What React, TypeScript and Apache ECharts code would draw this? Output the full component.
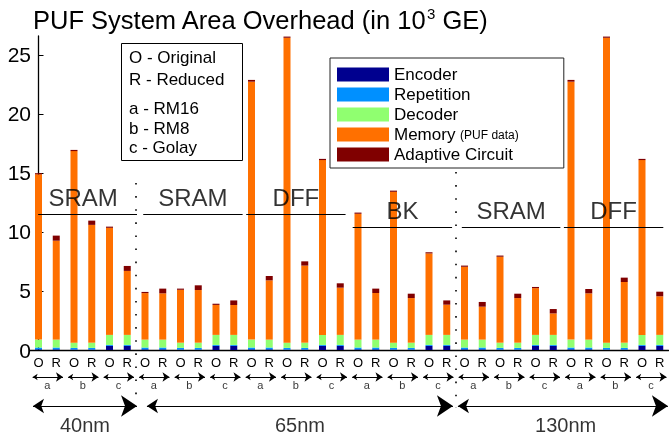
import React, { useEffect, useRef } from 'react';
import * as echarts from 'echarts';

// ---------- data ----------
const barLabels = [
  'O', 'R', 'O', 'R', 'O', 'R',
  'O', 'R', 'O', 'R', 'O', 'R',
  'O', 'R', 'O', 'R', 'O', 'R',
  'O', 'R', 'O', 'R', 'O', 'R',
  'O', 'R', 'O', 'R', 'O', 'R',
  'O', 'R', 'O', 'R', 'O', 'R',
];
const codeLetters = ['a', 'b', 'c', 'a', 'b', 'c', 'a', 'b', 'c', 'a', 'b', 'c', 'a', 'b', 'c', 'a', 'b', 'c'];
const techLabels = ['40nm', '65nm', '130nm'];
const groupNames = ['SRAM', 'SRAM', 'DFF', 'BK', 'SRAM', 'DFF'];
const yTicks = [0, 5, 10, 15, 20, 25];

const encoder = [
  0.06, 0.06, 0.04, 0.04, 0.35, 0.35,
  0.06, 0.06, 0.04, 0.04, 0.35, 0.35,
  0.06, 0.06, 0.04, 0.04, 0.35, 0.35,
  0.06, 0.06, 0.04, 0.04, 0.35, 0.35,
  0.06, 0.06, 0.04, 0.04, 0.35, 0.35,
  0.06, 0.06, 0.04, 0.04, 0.35, 0.35,
];
const repetition = [
  0.15, 0.15, 0.14, 0.14, 0.08, 0.08,
  0.15, 0.15, 0.14, 0.14, 0.08, 0.08,
  0.15, 0.15, 0.14, 0.14, 0.08, 0.08,
  0.15, 0.15, 0.14, 0.14, 0.08, 0.08,
  0.15, 0.15, 0.14, 0.14, 0.08, 0.08,
  0.15, 0.15, 0.14, 0.14, 0.08, 0.08,
];
const decoder = [
  0.67, 0.67, 0.44, 0.44, 0.85, 0.85,
  0.67, 0.67, 0.44, 0.44, 0.85, 0.85,
  0.67, 0.67, 0.44, 0.44, 0.85, 0.85,
  0.67, 0.67, 0.44, 0.44, 0.85, 0.85,
  0.67, 0.67, 0.44, 0.44, 0.85, 0.85,
  0.67, 0.67, 0.44, 0.44, 0.85, 0.85,
];
const memory = [
  14.0, 8.38, 16.23, 9.98, 9.07, 5.42,
  3.94, 3.92, 4.48, 4.46, 2.54, 2.53,
  21.85, 5.02, 25.83, 6.53, 14.81, 4.0,
  10.66, 3.95, 12.78, 3.78, 6.9, 2.56,
  6.17, 2.79, 7.28, 3.78, 3.96, 1.82,
  21.85, 3.92, 25.83, 5.14, 14.81, 3.27,
];
const adaptive = [
  0.1, 0.43, 0.1, 0.36, 0.1, 0.42,
  0.1, 0.4, 0.1, 0.4, 0.1, 0.39,
  0.15, 0.37, 0.1, 0.36, 0.1, 0.37,
  0.1, 0.37, 0.1, 0.37, 0.1, 0.36,
  0.1, 0.4, 0.1, 0.37, 0.1, 0.37,
  0.15, 0.37, 0.1, 0.37, 0.1, 0.39,
];

// ---------- layout (annotation positions, in bar-index units / px offsets) ----------
const groupSpans = [[-0.02, 5.55], [5.9, 11.5], [11.7, 17.3], [17.7, 23.3], [23.85, 29.4], [29.6, 35.2]];
const groupLevels = [11.5, 11.5, 11.5, 10.42, 10.42, 10.42];
const groupLabelShift = [-0.25, 0, 0, 0, 0, 0];
const techSpans = [[-0.31, 5.55], [6.11, 23.35], [23.63, 35.46]];
const techLabelX = [2.62, 14.73, 29.7];
const separatorX = [5.5, 23.5];
const separatorSpan = [[-167, 45], [-178, 58]]; // px above(-)/below(+) x axis

const FONT = '"Liberation Sans", Arial, Helvetica, sans-serif';
const COLORS = ['#00008F', '#0090FF', '#90FF70', '#FF7000', '#800000'];
const GRID_LEFT = 29.625;
const GRID_TOP = 36;
const GRID_W = 639;
const GRID_H = 314;

export default function App() {
  const ref = useRef<HTMLDivElement>(null);

  useEffect(() => {
    const chart = echarts.init(ref.current!, null, { renderer: 'svg' });
    const categories = barLabels.map((l, i) => `${l}#${i}`);
    const seriesNames = ['Encoder', 'Repetition', 'Decoder', 'Memory', 'Adaptive Circuit'];
    const seriesData = [encoder, repetition, decoder, memory, adaptive];

    const barSeries = seriesNames.map((name, k) => ({
      name,
      type: 'bar',
      stack: 'total',
      barWidth: 7,
      xAxisIndex: 0,
      yAxisIndex: 0,
      itemStyle: { color: COLORS[k] },
      data: seriesData[k],
      silent: true,
    }));

    const smallArrows = codeLetters.map((_, p) => ({
      coords: [[2 * p - 0.33, 27], [2 * p + 1 + 0.38, 27]],
    }));
    const bigArrows = techSpans.map((s) => ({
      coords: [[s[0], 56], [s[1], 56]],
    }));

    const option: any = {
      animation: false,
      title: {
        text: 'PUF System Area Overhead (in 10{sup|3} GE)',
        left: 33,
        top: 6,
        padding: 0,
        textStyle: {
          fontFamily: FONT,
          fontSize: 25.5,
          fontWeight: 'normal',
          color: '#000',
          rich: {
            sup: { fontFamily: FONT, fontSize: 15, color: '#000', padding: [0, 0, 12, 0] },
          },
        },
      },
      legend: {
        data: seriesNames,
        orient: 'vertical',
        left: 330,
        top: 58,
        itemWidth: 52,
        itemHeight: 14,
        itemGap: 3,
        icon: 'rect',
        selectedMode: false,
        borderColor: '#222',
        borderWidth: 1,
        backgroundColor: '#fff',
        padding: [8, 45, 5, 7],
        formatter: (name: string) => (name === 'Memory' ? 'Memory {s|(PUF data)}' : name),
        textStyle: {
          fontFamily: FONT,
          fontSize: 17,
          color: '#000',
          rich: { s: { fontFamily: FONT, fontSize: 12, color: '#000' } },
        },
      },
      grid: { left: GRID_LEFT, top: GRID_TOP, width: GRID_W, height: GRID_H },
      xAxis: [
        {
          type: 'category',
          data: categories,
          axisLine: { show: true, lineStyle: { color: '#000', width: 1.3 } },
          axisTick: { show: false },
          axisLabel: {
            interval: 0,
            margin: 6,
            fontFamily: FONT,
            fontSize: 13,
            color: '#000',
            formatter: (v: string) => v.split('#')[0],
          },
          splitLine: { show: false },
        },
        { type: 'value', min: -0.5, max: 35.5, show: false, splitLine: { show: false } },
      ],
      yAxis: [
        {
          type: 'value',
          min: 0,
          max: 26.6,
          offset: -5.4,
          axisLine: { show: true, lineStyle: { color: '#000', width: 1.3 } },
          axisTick: { show: true, inside: true, length: 5, customValues: yTicks, lineStyle: { color: '#000' } },
          axisLabel: { customValues: yTicks, margin: 4, fontFamily: FONT, fontSize: 21, color: '#000' },
          splitLine: { show: false },
        },
        { type: 'value', min: -GRID_H, max: 0, inverse: true, show: false, splitLine: { show: false } },
      ],
      graphic: [
        {
          type: 'rect',
          shape: { x: 121.5, y: 43.5, width: 121, height: 117 },
          style: { fill: '#fff', stroke: '#000', lineWidth: 1 },
          z: 10,
        },
        ...[
          ['O - Original', 57],
          ['R - Reduced', 79],
          ['a - RM16', 108],
          ['b - RM8', 128],
          ['c - Golay', 147],
        ].map(([t, y]) => ({
          type: 'text',
          x: 129,
          y: y as number,
          z: 11,
          style: {
            text: t as string,
            fontFamily: FONT,
            fontSize: 17,
            fill: '#000',
            verticalAlign: 'middle',
            align: 'left',
          },
        })),
      ],
      series: [
        ...barSeries,
        {
          type: 'lines',
          coordinateSystem: 'cartesian2d',
          xAxisIndex: 1,
          yAxisIndex: 0,
          clip: false,
          silent: true,
          symbol: 'none',
          lineStyle: { color: '#000', width: 1, opacity: 1 },
          data: groupSpans.map((s, g) => ({ coords: [[s[0], groupLevels[g]], [s[1], groupLevels[g]]] })),
          z: 5,
        },
        {
          type: 'scatter',
          xAxisIndex: 1,
          yAxisIndex: 0,
          clip: false,
          silent: true,
          symbolSize: 1,
          itemStyle: { color: 'rgba(0,0,0,0)' },
          label: {
            show: true,
            position: 'top',
            distance: 4,
            formatter: '{b}',
            fontFamily: FONT,
            fontSize: 24,
            lineHeight: 24,
            color: '#000',
          },
          data: groupNames.map((n, g) => ({
            name: n,
            value: [(groupSpans[g][0] + groupSpans[g][1]) / 2 + groupLabelShift[g], groupLevels[g]],
          })),
          z: 6,
        },
        {
          type: 'lines',
          coordinateSystem: 'cartesian2d',
          xAxisIndex: 1,
          yAxisIndex: 1,
          clip: false,
          silent: true,
          symbol: 'none',
          lineStyle: { color: '#000', width: 1.6, type: [1.6, 11.5], opacity: 1 },
          data: separatorX.map((x, k) => ({ coords: [[x, separatorSpan[k][0]], [x, separatorSpan[k][1]]] })),
          z: 5,
        },
        {
          type: 'lines',
          coordinateSystem: 'cartesian2d',
          xAxisIndex: 1,
          yAxisIndex: 1,
          clip: false,
          silent: true,
          symbol: ['arrow', 'arrow'],
          symbolSize: [5, 7],
          lineStyle: { color: '#000', width: 1, opacity: 1 },
          data: smallArrows,
          z: 5,
        },
        {
          type: 'lines',
          coordinateSystem: 'cartesian2d',
          xAxisIndex: 1,
          yAxisIndex: 1,
          clip: false,
          silent: true,
          symbol: ['arrow', 'arrow'],
          symbolSize: [11, 16],
          lineStyle: { color: '#000', width: 1, opacity: 1 },
          data: bigArrows,
          z: 5,
        },
        {
          type: 'scatter',
          xAxisIndex: 1,
          yAxisIndex: 1,
          clip: false,
          silent: true,
          symbolSize: 1,
          itemStyle: { color: 'rgba(0,0,0,0)' },
          label: {
            show: true,
            position: 'inside',
            formatter: '{b}',
            fontFamily: FONT,
            fontSize: 11,
            color: '#000',
          },
          data: codeLetters.map((c, p) => ({ name: c, value: [2 * p + 0.5, 35] })),
          z: 6,
        },
        {
          type: 'scatter',
          xAxisIndex: 1,
          yAxisIndex: 1,
          clip: false,
          silent: true,
          symbolSize: 1,
          itemStyle: { color: 'rgba(0,0,0,0)' },
          label: {
            show: true,
            position: 'inside',
            formatter: '{b}',
            fontFamily: FONT,
            fontSize: 20,
            color: '#000',
          },
          data: techLabels.map((t, k) => ({ name: t, value: [techLabelX[k], 75] })),
          z: 6,
        },
      ],
    };

    chart.setOption(option);
    return () => chart.dispose();
  }, []);

  return <div ref={ref} style={{ position: 'fixed', left: 0, top: 0, width: 669, height: 439 }} />;
}
